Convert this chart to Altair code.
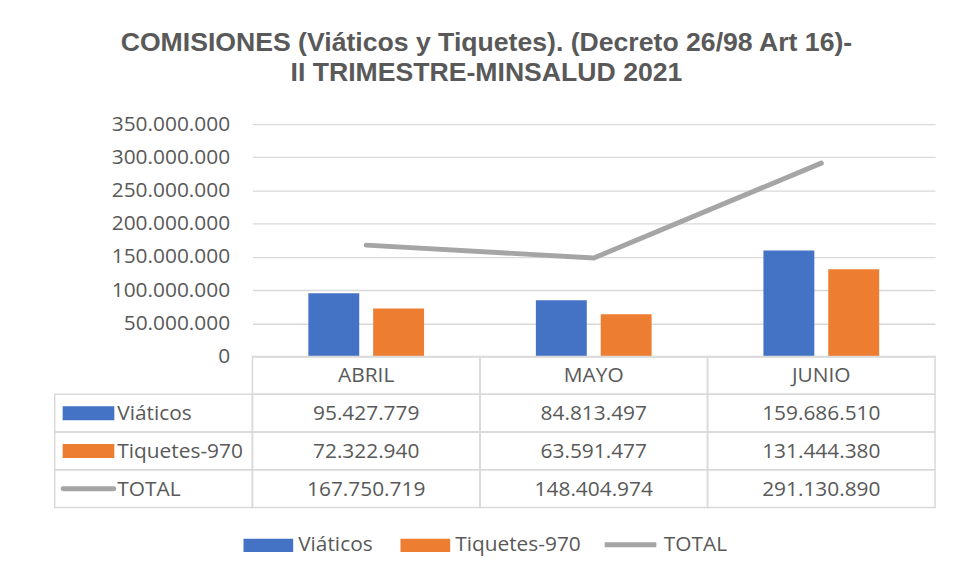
import altair as alt
import pandas as pd

# ---- data ----
months = ["ABRIL", "MAYO", "JUNIO"]
series = ["Viáticos", "Tiquetes-970", "TOTAL"]
viaticos = [95427779, 84813497, 159686510]
tiquetes = [72322940, 63591477, 131444380]
total = [167750719, 148404974, 291130890]
colors = ["#4472C4", "#ED7D31", "#A5A5A5"]
y_ticks = [0, 50000000, 100000000, 150000000, 200000000, 250000000, 300000000, 350000000]
title_lines = ["COMISIONES (Viáticos y Tiquetes). (Decreto 26/98 Art 16)-",
               "II TRIMESTRE-MINSALUD 2021"]


def fmt(v):
    return f"{v:,}".replace(",", ".")


values_by_series = {"Viáticos": viaticos, "Tiquetes-970": tiquetes, "TOTAL": total}

bars_df = pd.DataFrame(
    [{"month": m, "series": s, "value": v}
     for s in series[:2] for m, v in zip(months, values_by_series[s])]
)
total_df = pd.DataFrame({"month": months, "linea": "TOTAL", "value": total})

rows = ["hdr"] + series
table_records = [{"month": m, "row": "hdr", "label": m} for m in months]
for s in series:
    for m, v in zip(months, values_by_series[s]):
        table_records.append({"month": m, "row": s, "label": fmt(v)})
table_df = pd.DataFrame(table_records)
rowlab_df = pd.DataFrame({"row": series, "series": series})

# ---- styling ----
TXT = "#595959"
GRID = "#D9D9D9"
FONT = "Open Sans"
FS = 21
W = 687
H_TOP = 234
H_TAB = 152
RECT_PATH = "M-1,-0.27L1,-0.27L1,0.27L-1,0.27Z"
LINE_PATH = "M-1,0L1,0"

x_scale = alt.Scale(domain=months, paddingInner=0, paddingOuter=0)
color_scale = alt.Scale(domain=series[:2], range=colors[:2])
stroke_scale = alt.Scale(domain=["TOTAL"], range=[colors[2]])
y_scale = alt.Scale(domain=[0, 350000000], nice=False)
row_scale = alt.Scale(domain=rows, paddingInner=0, paddingOuter=0)

legend_common = dict(orient="none", direction="horizontal", title=None, padding=0,
                     labelFont=FONT, labelFontSize=FS, labelColor=TXT, labelOffset=5,
                     columnPadding=28, symbolOpacity=1)

legend_bars = alt.Legend(legendX=-9, legendY=399, symbolType=RECT_PATH, symbolSize=2500,
                         symbolStrokeWidth=0, **legend_common)
legend_line = alt.Legend(legendX=352, legendY=395, symbolType=LINE_PATH, symbolSize=2704,
                         symbolStrokeWidth=5, **legend_common)

y_axis = alt.Axis(values=y_ticks, tickCount=len(y_ticks) + 2, grid=True, gridColor=GRID,
                  gridWidth=1.3, domain=False, ticks=False, labelPadding=23, labelOverlap=False,
                  labelFont=FONT, labelFontSize=FS, labelColor=TXT,
                  labelExpr="replace(format(datum.value, ','), /,/g, '.')",
                  title=None)

bars = alt.Chart(bars_df).mark_bar().encode(
    x=alt.X("month:N", scale=x_scale, sort=months, axis=None),
    xOffset=alt.XOffset("series:N", sort=series[:2],
                        scale=alt.Scale(domain=series[:2], paddingInner=0.215, paddingOuter=0.862)),
    y=alt.Y("value:Q", scale=y_scale, axis=y_axis),
    color=alt.Color("series:N", scale=color_scale, legend=legend_bars),
)

line = alt.Chart(total_df).mark_line(strokeWidth=5, strokeCap="round").encode(
    x=alt.X("month:N", scale=x_scale, sort=months, axis=None),
    y=alt.Y("value:Q", scale=y_scale, axis=y_axis),
    stroke=alt.Stroke("linea:N", scale=stroke_scale, legend=legend_line),
)

top = alt.layer(bars, line).properties(
    width=W, height=H_TOP,
    title=alt.Title(title_lines, anchor="middle", frame="group", dx=-108,
                    font="Liberation Sans", fontSize=26.8, fontWeight="bold",
                    color=TXT, lineHeight=30, offset=27),
)

cells = alt.Chart(table_df).mark_rect(fillOpacity=0, stroke=GRID, strokeWidth=1.5).encode(
    x=alt.X("month:N", scale=x_scale, sort=months, axis=None),
    y=alt.Y("row:N", scale=row_scale, sort=rows, axis=None),
)
left_cells = alt.Chart(rowlab_df).mark_rect(fillOpacity=0, stroke=GRID, strokeWidth=1.5).encode(
    x=alt.value(-199), x2=alt.value(0),
    y=alt.Y("row:N", scale=row_scale, sort=rows, axis=None),
)
cell_text = alt.Chart(table_df).mark_text(font=FONT, fontSize=FS, color=TXT, dy=1).encode(
    x=alt.X("month:N", scale=x_scale, sort=months, axis=None),
    y=alt.Y("row:N", scale=row_scale, sort=rows, axis=None),
    text="label:N",
)
row_text = alt.Chart(rowlab_df).mark_text(font=FONT, fontSize=FS, color=TXT, align="left", dy=1).encode(
    x=alt.value(-136),
    y=alt.Y("row:N", scale=row_scale, sort=rows, axis=None),
    text="series:N",
)
sw_rect = alt.Chart(rowlab_df[rowlab_df["series"] != "TOTAL"]).mark_point(
    shape=RECT_PATH, size=2704, filled=True, opacity=1, strokeWidth=0).encode(
    x=alt.value(-165),
    y=alt.Y("row:N", scale=row_scale, sort=rows, axis=None),
    color=alt.Color("series:N", scale=color_scale, legend=None),
)
sw_line = alt.Chart(rowlab_df[rowlab_df["series"] == "TOTAL"]).mark_point(
    shape=LINE_PATH, size=2601, filled=False, opacity=1, strokeWidth=5, strokeCap="round",
    color=colors[2]).encode(
    x=alt.value(-165),
    y=alt.Y("row:N", scale=row_scale, sort=rows, axis=None),
)

table = alt.layer(cells, left_cells, cell_text, row_text, sw_rect, sw_line).properties(
    width=W, height=H_TAB)

chart = alt.vconcat(top, table, spacing=0, bounds="flush").properties(
    padding={"left": 45, "top": 20, "right": 10, "bottom": 10},
).configure_view(stroke=None)

chart.save("out.html", embed_options={"renderer": "svg", "actions": False})
